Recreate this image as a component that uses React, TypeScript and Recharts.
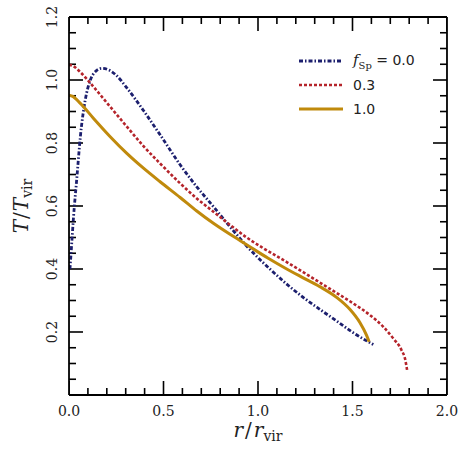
import React from 'react';
import { Line, LineChart, XAxis, YAxis } from 'recharts';

// f_Sp = 0.0
const rSp00 = [0.005, 0.012, 0.024, 0.042, 0.06, 0.086, 0.113, 0.14, 0.174, 0.21, 0.25, 0.306, 0.394, 0.482, 0.589, 0.676, 0.764, 0.852, 0.94, 1.01, 1.063, 1.152, 1.239, 1.327, 1.416, 1.503, 1.61];
const tSp00 = [0.4, 0.46, 0.566, 0.693, 0.82, 0.937, 1.0, 1.027, 1.037, 1.032, 1.015, 0.975, 0.903, 0.826, 0.73, 0.661, 0.598, 0.534, 0.473, 0.43, 0.4, 0.352, 0.31, 0.272, 0.235, 0.198, 0.16];

// f_Sp = 0.3
const rSp03 = [0, 0.02, 0.06, 0.113, 0.218, 0.306, 0.394, 0.482, 0.588, 0.676, 0.764, 0.852, 0.94, 1.028, 1.152, 1.239, 1.327, 1.416, 1.503, 1.592, 1.662, 1.715, 1.759, 1.78, 1.79];
const tSp03 = [1.048, 1.045, 1.025, 0.99, 0.915, 0.852, 0.79, 0.735, 0.672, 0.624, 0.582, 0.54, 0.5, 0.466, 0.422, 0.39, 0.357, 0.324, 0.291, 0.254, 0.217, 0.18, 0.143, 0.11, 0.075];

// f_Sp = 1.0
const rSp10 = [0, 0.02, 0.06, 0.13, 0.218, 0.306, 0.394, 0.482, 0.588, 0.676, 0.764, 0.852, 0.94, 1.054, 1.152, 1.239, 1.327, 1.416, 1.486, 1.539, 1.574, 1.588];
const tSp10 = [0.952, 0.948, 0.926, 0.878, 0.82, 0.767, 0.72, 0.677, 0.627, 0.584, 0.545, 0.51, 0.477, 0.434, 0.4, 0.372, 0.344, 0.31, 0.272, 0.23, 0.19, 0.169];

const xMinorTicks = [0.1, 0.2, 0.3, 0.4, 0.6, 0.7, 0.8, 0.9, 1.1, 1.2, 1.3, 1.4, 1.6, 1.7, 1.8, 1.9];
const xMajorTicks = [0, 0.5, 1.0, 1.5, 2.0];
const yMinorTicks = [0.05, 0.1, 0.15, 0.25, 0.3, 0.35, 0.45, 0.5, 0.55, 0.65, 0.7, 0.75, 0.85, 0.9, 0.95, 1.05, 1.1, 1.15];
const yMajorTicks = [0.2, 0.4, 0.6, 0.8, 1.0, 1.2];

const X_MAX = 2;
const Y_MAX = 1.2;

const toRows = (r: number[], t: number[]) => r.map((v, i) => ({ r: v, T: t[i] }));

const serif = '"DejaVu Serif", serif';
const frame = { stroke: '#000', strokeWidth: 1.8 };
const THIN = 0.01;

// inward tick lengths in data units (plot is ~378px square): major 14px, minor 7px
const xTickLen = (major: boolean) => (major ? 0.037 : 0.0185) * Y_MAX;
const yTickLen = (major: boolean) => (major ? 0.037 : 0.0185) * X_MAX;

const XLabelTick = (props: any) => {
  const { x, y, payload } = props;
  return (
    <text x={x} y={y + 21} textAnchor="middle" fontSize={14} fontFamily={serif} fill="#222">
      {Number(payload.value).toFixed(1)}
    </text>
  );
};

const YLabelTick = (props: any) => {
  const { x, y, payload } = props;
  const tx = x - 12;
  return (
    <text
      x={tx}
      y={y}
      transform={`rotate(-90 ${tx} ${y})`}
      textAnchor="middle"
      fontSize={14}
      fontFamily={serif}
      fill="#222"
    >
      {Number(payload.value).toFixed(1)}
    </text>
  );
};

const NoLabel = () => <g />;

const legendItems = [
  { key: 'a', color: '#1c1f6e', dash: '4 2 1.5 2', width: 2.8, label: 'f' },
  { key: 'b', color: '#b5242b', dash: '3 2', width: 2.6, label: '0.3' },
  { key: 'c', color: '#c08a0c', dash: undefined, width: 3, label: '1.0' },
];

const LegendBox = () => (
  <div
    style={{
      position: 'absolute',
      left: 299,
      top: 49,
      fontFamily: '"DejaVu Sans", sans-serif',
      fontSize: 14,
      color: '#222',
    }}
  >
    {legendItems.map((it) => (
      <div key={it.key} style={{ height: 24, display: 'flex', alignItems: 'center' }}>
        <svg width={44} height={10} style={{ display: 'block' }}>
          <line x1={0} y1={5} x2={44} y2={5} stroke={it.color} strokeWidth={it.width} strokeDasharray={it.dash} />
        </svg>
        <span style={{ marginLeft: 10 }}>
          {it.label === 'f' ? (
            <>
              <i style={{ fontFamily: serif, fontSize: 15 }}>f</i>
              <sub style={{ fontFamily: serif, fontSize: 10 }}>Sp</sub>
              {' = 0.0'}
            </>
          ) : (
            it.label
          )}
        </span>
      </div>
    ))}
  </div>
);

// a tick mark drawn as a tiny two-point series so it goes through the chart scales
const tickMark = (key: string, pts: { r: number; T: number }[]) => (
  <Line
    key={key}
    data={pts}
    dataKey="T"
    type="linear"
    stroke="#000"
    strokeWidth={1.6}
    dot={false}
    activeDot={false}
    legendType="none"
    isAnimationActive={false}
  />
);

export default function App() {
  const marks: React.ReactNode[] = [];
  const xs = [...xMajorTicks.map((v) => ({ v, major: true })), ...xMinorTicks.map((v) => ({ v, major: false }))];
  const ys = [...yMajorTicks.map((v) => ({ v, major: true })), ...yMinorTicks.map((v) => ({ v, major: false }))];
  xs.forEach(({ v, major }) => {
    const len = xTickLen(major);
    marks.push(tickMark(`b${v}`, [{ r: v, T: 0 }, { r: v, T: len }]));
    marks.push(tickMark(`t${v}`, [{ r: v, T: Y_MAX }, { r: v, T: Y_MAX - len }]));
  });
  ys.forEach(({ v, major }) => {
    const len = yTickLen(major);
    marks.push(tickMark(`l${v}`, [{ r: 0, T: v }, { r: len, T: v }]));
    marks.push(tickMark(`r${v}`, [{ r: X_MAX - len, T: v }, { r: X_MAX, T: v }]));
  });

  return (
    <div style={{ position: 'absolute', left: 0, top: 0, width: 461, height: 450, background: '#fff' }}>
      <LineChart width={461} height={450} margin={{ top: 17, right: 14, left: 69, bottom: 55 }}>
        <XAxis
          dataKey="r"
          type="number"
          domain={[0, X_MAX]}
          allowDataOverflow
          ticks={xMajorTicks}
          interval={0}
          height={THIN}
          tickSize={0}
          tickMargin={0}
          tickLine={false}
          axisLine={frame}
          tick={(p: any) => <XLabelTick {...p} />}
          label={{
            content: (p: any) => {
              const vb = p.viewBox;
              return (
                <text
                  x={vb.x + vb.width / 2}
                  y={vb.y + 42}
                  textAnchor="middle"
                  fontFamily={serif}
                  fontSize={20}
                  fill="#222"
                >
                  <tspan fontStyle="italic">r</tspan>
                  <tspan dx={2}>/</tspan>
                  <tspan dx={2} fontStyle="italic">r</tspan>
                  <tspan fontSize={14} dy={4}>vir</tspan>
                </text>
              );
            },
          }}
        />
        <XAxis
          xAxisId="top"
          orientation="top"
          type="number"
          domain={[0, X_MAX]}
          allowDataOverflow
          ticks={xMajorTicks}
          interval={0}
          height={THIN}
          tickLine={false}
          tick={NoLabel}
          axisLine={frame}
        />
        <YAxis
          type="number"
          domain={[0, Y_MAX]}
          allowDataOverflow
          ticks={yMajorTicks}
          interval={0}
          width={THIN}
          tickSize={0}
          tickMargin={0}
          tickLine={false}
          axisLine={frame}
          tick={(p: any) => <YLabelTick {...p} />}
          label={{
            content: (p: any) => {
              const vb = p.viewBox;
              const cx = vb.x - 41;
              const cy = vb.y + vb.height / 2;
              return (
                <text
                  x={cx}
                  y={cy}
                  transform={`rotate(-90 ${cx} ${cy})`}
                  textAnchor="middle"
                  fontFamily={serif}
                  fontSize={20}
                  fill="#222"
                >
                  <tspan fontStyle="italic">T</tspan>
                  <tspan dx={1}>/</tspan>
                  <tspan dx={1} fontStyle="italic">T</tspan>
                  <tspan fontSize={14} dy={4}>vir</tspan>
                </text>
              );
            },
          }}
        />
        <YAxis
          yAxisId="right"
          orientation="right"
          type="number"
          domain={[0, Y_MAX]}
          allowDataOverflow
          ticks={yMajorTicks}
          interval={0}
          width={THIN}
          tickLine={false}
          tick={NoLabel}
          axisLine={frame}
        />
        {marks}
        <Line
          data={toRows(rSp00, tSp00)}
          dataKey="T"
          type="monotone"
          stroke="#1c1f6e"
          strokeWidth={2.8}
          strokeDasharray="4 2 1.5 2"
          dot={false}
          isAnimationActive={false}
        />
        <Line
          data={toRows(rSp03, tSp03)}
          dataKey="T"
          type="monotone"
          stroke="#b5242b"
          strokeWidth={2.6}
          strokeDasharray="3 2"
          dot={false}
          isAnimationActive={false}
        />
        <Line
          data={toRows(rSp10, tSp10)}
          dataKey="T"
          type="monotone"
          stroke="#c08a0c"
          strokeWidth={3}
          dot={false}
          isAnimationActive={false}
        />
      </LineChart>
      <LegendBox />
    </div>
  );
}
